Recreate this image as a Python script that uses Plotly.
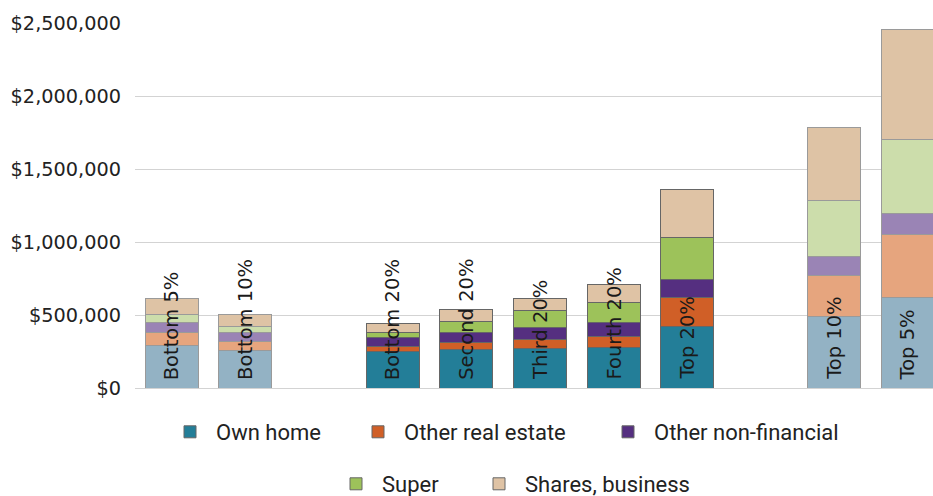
import plotly.graph_objects as go

categories = ["Bottom 5%", "Bottom 10%", "Bottom 20%", "Second 20%", "Third 20%",
              "Fourth 20%", "Top 20%", "Top 10%", "Top 5%"]
axis_order = ["Bottom 5%", "Bottom 10%", " ", "Bottom 20%", "Second 20%", "Third 20%",
              "Fourth 20%", "Top 20%", "  ", "Top 10%", "Top 5%"]
faded = [True, True, False, False, False, False, False, True, True]

own_home = [288000, 258000, 253000, 265000, 272000, 279000, 418000, 493000, 623000]
other_real_estate = [94000, 59000, 34000, 50000, 57000, 73000, 199000, 276000, 427000]
other_non_financial = [68000, 60000, 57000, 68000, 84000, 96000, 123000, 135000, 147000]
super_ = [55000, 43000, 37000, 71000, 116000, 141000, 290000, 379000, 507000]
shares_business = [105000, 85000, 64000, 85000, 87000, 119000, 327000, 503000, 753000]

series_names = ["Own home", "Other real estate", "Other non-financial", "Super", "Shares, business"]
series_values = [own_home, other_real_estate, other_non_financial, super_, shares_business]
full_colors = ["#237E98", "#D05F27", "#552F80", "#9DC25A", "#DFC3A5"]
faded_colors = ["#93B2C4", "#E6A57E", "#9A84B5", "#CCDDAB", "#DEC3A5"]

y_ticks = [0, 500000, 1000000, 1500000, 2000000, 2500000]
y_tick_labels = ["$0", "$500,000", "$1,000,000", "$1,500,000", "$2,000,000", "$2,500,000"]

W, H = 933, 496
# legend placement (symbol centre x, row centre y) in pixels
legend_pos = [(191, 432), (379, 432), (629, 432), (357, 484), (500, 484)]
legend_ids = ["legend", "legend2", "legend3", "legend4", "legend5"]

fig = go.Figure()
for i, (name, vals) in enumerate(zip(series_names, series_values)):
    xs_full = [c for c, f in zip(categories, faded) if not f]
    ys_full = [v for v, f in zip(vals, faded) if not f]
    xs_fade = [c for c, f in zip(categories, faded) if f]
    ys_fade = [v for v, f in zip(vals, faded) if f]
    fig.add_trace(go.Bar(
        x=xs_full, y=ys_full, name=name, legend=legend_ids[i], legendgroup=name,
        marker=dict(color=full_colors[i], line=dict(color="#666666", width=1)),
        hoverinfo="x+y+name",
    ))
    fig.add_trace(go.Bar(
        x=xs_fade, y=ys_fade, name=name, legend=legend_ids[i], legendgroup=name,
        showlegend=False,
        marker=dict(color=faded_colors[i], line=dict(color="#9a9a9a", width=1)),
        hoverinfo="x+y+name",
    ))

for c in categories:
    fig.add_annotation(x=c, y=0, text=c, textangle=-90, showarrow=False,
                       xanchor="center", yanchor="bottom", yshift=6,
                       font=dict(family="DejaVu Sans", size=19.5, color="#1a1a1a"))

legend_layout = {}
for lid, (sx, sy) in zip(legend_ids, legend_pos):
    legend_layout[lid] = dict(
        orientation="h", xref="container", yref="container",
        x=(sx - 27) / W, xanchor="left", y=1 - sy / H, yanchor="middle",
        itemwidth=42,
        font=dict(family="Roboto", size=22, color="#222222"),
        bgcolor="rgba(0,0,0,0)",
    )

fig.update_layout(
    barmode="stack",
    bargap=0.28,
    width=W, height=H,
    margin=dict(l=135, r=0, t=23, b=108, autoexpand=False),
    plot_bgcolor="white", paper_bgcolor="white",
    xaxis=dict(type="category", categoryorder="array", categoryarray=axis_order,
               range=[-0.5, 10.34], showticklabels=False, showgrid=False,
               zeroline=False, showline=False, ticks="", automargin=False),
    yaxis=dict(range=[0, 2500000], tickvals=y_ticks, ticktext=y_tick_labels,
               showgrid=True, gridcolor="#d3d3d3", gridwidth=1,
               zeroline=True, zerolinecolor="#d3d3d3", zerolinewidth=1,
               showline=False, ticks="", ticklabelstandoff=13, automargin=False,
               tickfont=dict(family="DejaVu Sans", size=19.3, color="#222222")),
    showlegend=True,
    **legend_layout,
)

fig.write_html(
    "out.html",
    config={"displayModeBar": False},
    post_script="document.body.style.margin='0';document.body.style.overflow='hidden';",
)
